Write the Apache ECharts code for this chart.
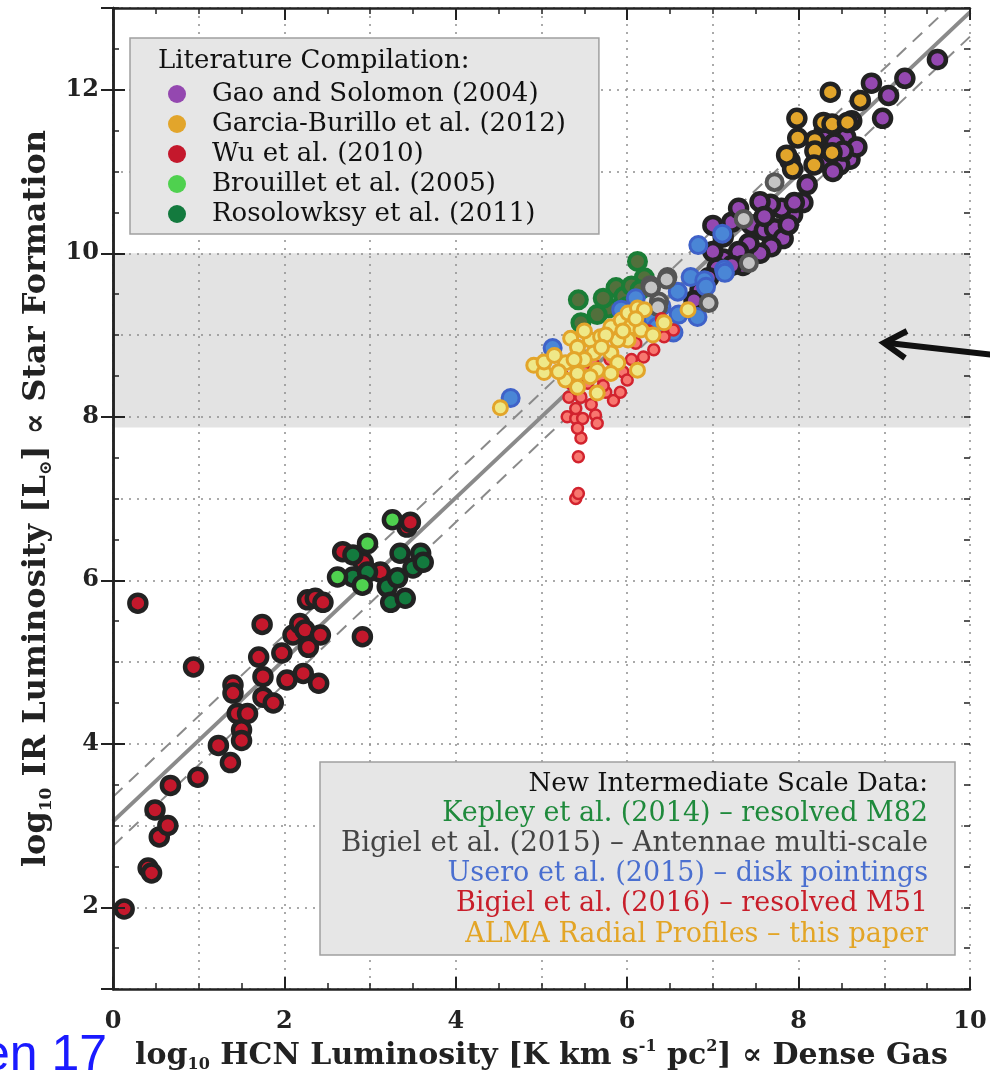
<!DOCTYPE html>
<html><head><meta charset="utf-8">
<script src="https://cdn.jsdelivr.net/npm/echarts@6/dist/echarts.min.js"></script>
<style>html,body{margin:0;padding:0;background:#fff}#c{width:990px;height:1082px}</style>
</head><body><div id="c"></div>
<script>
// ---- data (log10 L_HCN, log10 L_IR) ----
const gaoSolomon = [
 [9.62,12.37],[9.24,12.14],[8.85,12.08],[9.05,11.93],[8.98,11.65],
 [8.62,11.62],[8.55,11.42],[8.6,11.15],[8.48,11.08],[8.3,11.5],[8.42,11.35],[8.68,11.3],[8.28,11.12],[8.4,11.0],[8.52,11.25],
 [8.1,10.84],[8.05,10.62],[7.93,10.47],[7.8,10.55],[7.67,10.6],[7.55,10.63],[7.45,10.35],[7.6,10.28],[7.72,10.3],[7.82,10.18],
 [7.68,10.08],[7.55,10.0],[7.42,10.12],[7.3,10.02],[7.12,9.93],[7.0,10.02],[7.0,10.34],[7.12,10.2],[7.35,9.85],[7.22,9.85],
 [7.05,9.82],[6.95,9.7],[7.22,10.38],[7.3,10.55],[6.85,9.55],[7.6,10.45],[7.88,10.35],[7.95,10.62],[6.78,9.42]
];
const garciaBurillo = [
 [8.37,11.97],[7.98,11.65],[7.99,11.41],[8.19,11.38],[8.19,11.25],[8.29,11.6],[8.39,11.58],[8.57,11.6],
 [8.72,11.87],[8.39,11.23],[7.9,11.13],[7.93,11.03],[8.18,11.08],[7.86,11.2]
];
const wu2010 = [
 [0.13,1.98],[0.29,5.72],[0.41,2.48],[0.45,2.42],[0.49,3.19],[0.54,2.86],[0.64,3.0],[0.67,3.49],[0.94,4.94],[0.99,3.59],
 [1.23,3.98],[1.37,3.77],[1.4,4.72],[1.4,4.62],[1.45,4.37],[1.5,4.17],[1.57,4.37],[1.5,4.04],[1.74,5.46],[1.7,5.06],
 [1.75,4.82],[1.75,4.57],[1.87,4.5],[1.97,5.11],[2.03,4.78],[2.1,5.33],[2.18,5.47],[2.24,5.39],[2.28,5.18],[2.22,4.86],
 [2.4,4.74],[2.42,5.33],[2.27,5.76],[2.36,5.78],[2.45,5.73],[2.91,5.31],[2.68,6.35],[2.92,6.22],[3.12,6.1],[3.43,6.65],[3.47,6.71]
];
const brouillet = [[3.26,6.74],[2.97,6.45],[2.62,6.04],[2.91,5.94]];
const rosolowsky = [
 [2.8,6.31],[2.8,6.04],[2.97,6.1],[3.2,5.92],[3.24,5.73],[3.32,6.03],[3.35,6.33],[3.41,5.78],[3.5,6.15],[3.59,6.33],[3.62,6.22]
];
const kepley = [[5.43,9.43],[5.46,9.15],[5.87,9.58],[5.96,9.47],[6.12,9.9],[6.2,9.7],[5.78,9.33],[6.05,9.6],[5.65,9.25],[6.0,9.35],[6.15,9.55],[5.72,9.45]];
const antennae = [[6.27,9.61],[6.47,9.71],[6.37,9.41],[6.95,9.39],[7.72,10.87],[7.36,10.42],[7.42,9.88],[6.46,9.68],[6.28,9.58],[6.36,9.34]];
const usero = [
 [4.64,8.23],[5.13,8.84],[6.83,10.1],[7.13,9.8],[6.74,9.71],[6.9,9.67],[6.59,9.53],[6.82,9.22],[6.54,9.03],[5.93,9.31],
 [7.11,10.24],[7.14,9.76],[6.92,9.59],[6.4,9.35],[6.6,9.25],[6.3,9.2],[6.1,9.45],[6.35,9.1]
];
const m51 = [
 [5.4,7.0],[5.43,7.06],[5.43,7.51],[5.46,7.74],[5.3,8.0],[5.4,7.98],[5.48,7.98],[5.63,8.02],[5.65,7.92],[5.42,7.86],
 [5.84,8.2],[5.92,8.3],[5.32,8.24],[5.46,8.24],[5.54,8.41],[5.69,8.49],[6.19,8.73],[6.31,8.82],[6.43,8.98],[6.54,9.06],
 [5.75,8.3],[5.5,8.55],[5.6,8.65],[5.95,8.55],[6.05,8.7],[5.35,8.4],[5.25,8.5],[5.8,8.7],[6.1,8.9],[5.4,8.1],
 [5.58,8.15],[5.72,8.38],[6.0,8.45],[6.25,9.05],[6.4,9.2]
];
const almaProfiles = [
 [4.52,8.11],[4.91,8.63],[5.03,8.54],[5.03,8.67],[5.34,8.96],[5.42,8.85],[5.28,8.66],[5.28,8.45],[5.42,8.53],[5.57,8.94],
 [5.69,8.98],[5.61,8.78],[5.81,9.1],[5.93,9.18],[6.01,9.27],[6.12,9.33],[6.2,9.31],[6.04,9.1],[6.16,9.06],[6.01,8.94],
 [5.89,8.94],[5.81,8.78],[5.89,8.66],[5.65,8.57],[5.57,8.49],[5.65,8.29],[5.81,8.53],[6.12,8.57],[6.43,9.15],[6.71,9.31],
 [5.42,8.36],[5.15,8.75],[5.5,8.7],[5.75,9.0],[6.3,9.0],[5.2,8.55],[5.95,9.05],[6.1,9.2],[5.7,8.85],[5.5,9.05],[5.38,8.7]
];
const fitSolid = [[0,3.05],[10,12.95]];
const fitUpper = [[0,3.35],[10,13.25]];
const fitLower = [[0,2.75],[10,12.65]];
const bandRange = [7.87, 10];
const xRange = [0, 10];
const yRange = [1, 13];

const FONT = '"DejaVu Serif", serif';

const chart = echarts.init(document.getElementById('c'), null, {renderer: 'canvas'});

function lit(name, data, color) {
  return {type:'scatter', name, data, symbol:'circle', symbolSize:17, z:2,
    itemStyle:{color, borderColor:'#222', borderWidth:4.5, opacity:1},
    emphasis:{disabled:true}, silent:true};
}
function newer(name, data, fill, border, size, bw) {
  return {type:'scatter', name, data, symbol:'circle', symbolSize:size, z:2,
    itemStyle:{color:fill, borderColor:border, borderWidth:bw, opacity:1},
    emphasis:{disabled:true}, silent:true};
}
const tickCommon = {
  axisLine:{show:true, lineStyle:{color:'#222', width:2.5}},
  axisTick:{show:true, inside:true, length:12, lineStyle:{color:'#222', width:2}},
  splitLine:{show:false}
};
const gridLine = {show:true, lineStyle:{color:'#8f8f8f', width:1.5, type:[2,6]}};
const LEG = '26px ' + FONT;
const BOXT = '26px ' + FONT;
const BOX = '27px ' + FONT;

const option = {
  animation:false,
  backgroundColor:'#fff',
  grid:{left:113, right:20, top:8, bottom:93},
  xAxis:[
    Object.assign({type:'value', position:'bottom', min:xRange[0], max:xRange[1], interval:2,
      minorTick:{show:true, splitNumber:4, length:6, lineStyle:{color:'#222', width:1.5}},
      axisLabel:{show:true, margin:21, fontFamily:FONT, fontSize:24, fontWeight:'bold', color:'#222'},
      name:'{t|log}{s|10}{t| HCN Luminosity [K km s}{p|-1}{t| pc}{p|2}{t|] ∝ Dense Gas}',
      nameLocation:'middle', nameGap:42,
      nameTextStyle:{fontFamily:FONT, fontSize:30, fontWeight:'bold', color:'#222',
        rich:{t:{fontFamily:FONT, fontSize:30, fontWeight:'bold', color:'#222', lineHeight:34},
              s:{fontFamily:FONT, fontSize:16, fontWeight:'bold', color:'#222', lineHeight:16, verticalAlign:'bottom'},
              p:{fontFamily:FONT, fontSize:16, fontWeight:'bold', color:'#222', lineHeight:16, verticalAlign:'top'}}}
    }, tickCommon, {z:3}),
    Object.assign({type:'value', position:'top', min:xRange[0], max:xRange[1], interval:2,
      minorTick:{show:true, splitNumber:4, length:6, lineStyle:{color:'#222', width:1.5}},
      axisLabel:{show:false}}, tickCommon, {z:3}),
    {type:'value', position:'bottom', min:xRange[0], max:xRange[1], interval:1,
      axisLine:{show:false}, axisTick:{show:false}, axisLabel:{show:false}, splitLine:gridLine, z:1}
  ],
  yAxis:[
    Object.assign({type:'value', position:'left', min:yRange[0], max:yRange[1], splitNumber:6, minInterval:2, maxInterval:2,
      axisLabel:{show:true, margin:14, showMinLabel:false, showMaxLabel:false, fontFamily:FONT, fontSize:24, fontWeight:'bold', color:'#222'},
      name:'{t|log}{s|10}{t| IR Luminosity [L}{s|⊙}{t|] ∝ Star Formation}',
      nameLocation:'middle', nameGap:54, nameRotate:90,
      nameTextStyle:{fontFamily:FONT, fontSize:32, fontWeight:'bold', color:'#222',
        rich:{t:{fontFamily:FONT, fontSize:32, fontWeight:'bold', color:'#222', lineHeight:36},
              s:{fontFamily:FONT, fontSize:17, fontWeight:'bold', color:'#222', lineHeight:17, verticalAlign:'bottom'}}}
    }, tickCommon, {z:3}),
    Object.assign({type:'value', position:'right', min:yRange[0], max:yRange[1], splitNumber:6, minInterval:2, maxInterval:2,
      axisLabel:{show:false}}, tickCommon, {z:3}),
    {type:'value', position:'left', min:yRange[0], max:yRange[1], interval:0.5,
      axisLine:{show:false}, axisTick:{show:true, inside:true, length:6, lineStyle:{color:'#222', width:1.5}},
      axisLabel:{show:false}, splitLine:{show:false}, z:3},
    {type:'value', position:'right', min:yRange[0], max:yRange[1], interval:0.5,
      axisLine:{show:false}, axisTick:{show:true, inside:true, length:6, lineStyle:{color:'#222', width:1.5}},
      axisLabel:{show:false}, splitLine:{show:false}, z:3},
    {type:'value', position:'left', min:yRange[0], max:yRange[1], interval:1,
      axisLine:{show:false}, axisTick:{show:false}, axisLabel:{show:false}, splitLine:gridLine, z:1}
  ],
  legend:{
    data:['Gao and Solomon (2004)','Garcia-Burillo et al. (2012)','Wu et al. (2010)','Brouillet et al. (2005)','Rosolowksy et al. (2011)'],
    orient:'vertical', left:130, top:38, padding:[43, 33, 7, 38], itemGap:4, itemWidth:18, itemHeight:18,
    icon:'circle', itemStyle:{borderWidth:0}, backgroundColor:'#e6e6e6', borderColor:'#a0a0a0', borderWidth:1.5,
    textStyle:{fontFamily:FONT, fontSize:26, color:'#111', padding:[0,0,0,21]}, selectedMode:false, z:10
  },
  graphic:[
    {type:'text', x:158, y:61, z:100, style:{text:'Literature Compilation:', font:LEG, fill:'#111', align:'left', verticalAlign:'middle'}},
    {type:'rect', z:99, shape:{x:320, y:762, width:635, height:193}, style:{fill:'#e6e6e6', stroke:'#a0a0a0', lineWidth:1.5}},
    {type:'text', x:928, y:784, z:100, style:{text:'New Intermediate Scale Data:', font:BOXT, fill:'#111', align:'right', verticalAlign:'middle'}},
    {type:'text', x:928, y:814, z:100, style:{text:'Kepley et al. (2014) – resolved M82', font:BOX, fill:'#1f8a3c', align:'right', verticalAlign:'middle'}},
    {type:'text', x:928, y:844, z:100, style:{text:'Bigiel et al. (2015) – Antennae multi-scale', font:'27.6px '+FONT, fill:'#444', align:'right', verticalAlign:'middle'}},
    {type:'text', x:928, y:874, z:100, style:{text:'Usero et al. (2015) – disk pointings', font:BOX, fill:'#4a6fd0', align:'right', verticalAlign:'middle'}},
    {type:'text', x:928, y:904, z:100, style:{text:'Bigiel et al. (2016) – resolved M51', font:BOX, fill:'#c81e2a', align:'right', verticalAlign:'middle'}},
    {type:'text', x:928, y:935, z:100, style:{text:'ALMA Radial Profiles – this paper', font:BOX, fill:'#e3a526', align:'right', verticalAlign:'middle'}},
    {type:'line', z:100, shape:{x1:888, y1:343, x2:995, y2:355}, style:{stroke:'#111', lineWidth:6}},
    {type:'polyline', z:100, shape:{points:[[907,331],[884,343],[905,358]]}, style:{stroke:'#111', lineWidth:6, fill:null, lineJoin:'miter'}},
    {type:'text', x:-18, y:1031, z:100, style:{text:'en 17', font:'50px "Liberation Sans", Arial, sans-serif', fill:'#1a1aff', align:'left', verticalAlign:'top'}}
  ],
  series:[
    {type:'custom', name:'band', z:-1, silent:true, data:[[0]],
      renderItem:function(params, api){
        const p1 = api.coord([xRange[0], bandRange[1]]);
        const p2 = api.coord([xRange[1], bandRange[0]]);
        return {type:'rect', shape:{x:p1[0], y:p1[1], width:p2[0]-p1[0], height:p2[1]-p1[1]}, style:{fill:'#e3e3e3'}};
      }},
    {type:'line', name:'fit', data:fitSolid, symbol:'none', clip:true, silent:true, z:1.5, lineStyle:{color:'#8a8a8a', width:4}},
    {type:'line', name:'fitUp', data:fitUpper, symbol:'none', clip:true, silent:true, z:1.5, lineStyle:{color:'#8a8a8a', width:2, type:[13,9]}},
    {type:'line', name:'fitLo', data:fitLower, symbol:'none', clip:true, silent:true, z:1.5, lineStyle:{color:'#8a8a8a', width:2, type:[13,9]}},
    lit('Gao and Solomon (2004)', gaoSolomon, '#9448b0'),
    lit('Garcia-Burillo et al. (2012)', garciaBurillo, '#e2a52b'),
    lit('Wu et al. (2010)', wu2010, '#c4182c'),
    lit('Rosolowksy et al. (2011)', rosolowsky, '#137a3e'),
    lit('Brouillet et al. (2005)', brouillet, '#4fd14f'),
    newer('Kepley et al. (2014)', kepley, '#52703c', '#1a7d36', 17, 4),
    newer('Usero et al. (2015)', usero, '#4a86d6', '#3f62c8', 17, 3),
    newer('Bigiel et al. (2015)', antennae, '#c4c4c4', '#555555', 16, 4),
    newer('Bigiel et al. (2016)', m51, '#f8776f', '#d2232e', 11, 2.5),
    newer('ALMA Radial Profiles', almaProfiles, '#efe888', '#e3a52a', 14, 3)
  ]
};
chart.setOption(option);
</script></body></html>
